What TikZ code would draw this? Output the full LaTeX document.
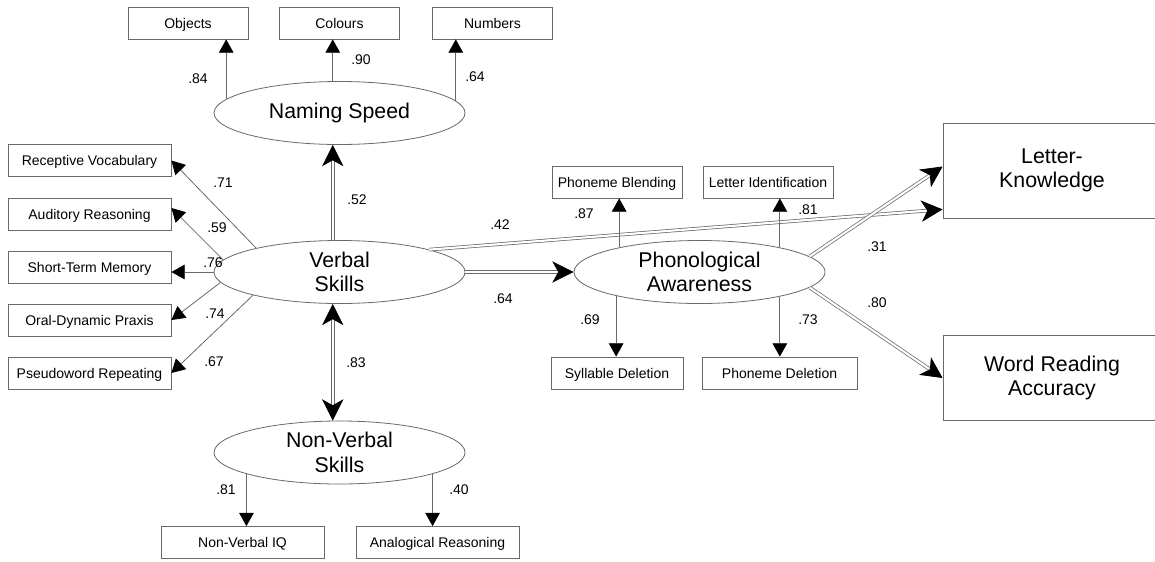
\documentclass[tikz,border=0pt]{standalone}
\usepackage{fontspec}
\setmainfont{Liberation Sans}
\usetikzlibrary{arrows.meta,shapes.geometric,calc}
\definecolor{edge}{RGB}{105,105,105}

\begin{document}
\begin{tikzpicture}[x=0.75pt,y=-0.75pt,
  every node/.style={inner sep=0pt,text=black},
  obs/.style={draw=edge,line width=0.6pt,rectangle,minimum height=24pt,
    text height=7.6pt,text depth=0pt,
    font=\fontsize{10.5}{12}\selectfont},
  outcome/.style={draw=edge,line width=0.6pt,rectangle,minimum width=163.5pt,
    align=center,font=\fontsize{16}{18.5}\selectfont},
  latent/.style={draw=edge,line width=0.6pt,ellipse,fill=white,
    minimum width=188.25pt,minimum height=47.25pt,
    align=center,font=\fontsize{16}{18.5}\selectfont},
  lab/.style={font=\fontsize{10.5}{12}\selectfont},
  load/.style={draw=edge,line width=0.6pt,
    -{Triangle[length=10pt,width=11pt,color=black]}},
  effect/.style={draw=edge,line width=0.55pt,double=white,double distance=1.6pt,
    -{Stealth[length=16pt,width=16pt,inset=4.5pt,color=black]}},
  corr/.style={draw=edge,line width=0.55pt,double=white,double distance=1.6pt,
    {Stealth[length=16pt,width=16pt,inset=4.5pt,color=black]}-{Stealth[length=16pt,width=16pt,inset=4.5pt,color=black]}},
]
\useasboundingbox (0,0) rectangle (1155,561);
\clip (0,0) rectangle (1155,561);

% observed measures
\node[obs,minimum width=90pt] (obj) at (188,23) {Objects};
\node[obs,minimum width=90pt] (col) at (339.5,23) {Colours};
\node[obs,minimum width=90pt] (num) at (492.5,23) {Numbers};

\node[obs,minimum width=122.25pt] (rv)  at (89.5,160.5) {Receptive Vocabulary};
\node[obs,minimum width=122.25pt] (ar)  at (89.5,214) {Auditory Reasoning};
\node[obs,minimum width=122.25pt] (stm) at (89.5,267) {Short-Term Memory};
\node[obs,minimum width=122.25pt] (odp) at (89.5,320) {Oral-Dynamic Praxis};
\node[obs,minimum width=122.25pt] (pr)  at (89.5,373) {Pseudoword Repeating};

\node[obs,minimum width=122.25pt] (nviq) at (242.5,542.5) {Non-Verbal IQ};
\node[obs,minimum width=122.25pt] (anr)  at (437.5,542.5) {Analogical Reasoning};

\node[obs,minimum width=97.5pt] (pb) at (617,182) {Phoneme Blending};
\node[obs,minimum width=97.5pt] (li) at (768,182) {Letter Identification};
\node[obs,minimum width=99pt] (sd) at (617,373) {Syllable Deletion};
\node[obs,minimum width=116.25pt] (pd) at (779.5,373) {Phoneme Deletion};

% outcomes
\node[outcome,minimum height=71.25pt] (lk) at (1052,170.5) {Letter-\\Knowledge};
\node[outcome,minimum height=63.75pt] (wra) at (1052,378) {Word Reading\\Accuracy};

% latent factors
\node[latent] (ns) at (339.5,113) {Naming Speed};
\node[latent] (vs) at (339.5,272) {Verbal\\Skills};
\node[latent] (nv) at (339.5,452.5) {Non-Verbal\\Skills};
\node[latent] (pa) at (699.5,272) {Phonological\\Awareness};

% structural paths
\draw[effect] (vs.102) -- (vs.102 |- ns.south);
\draw[corr] (vs.258) -- (vs.258 |- nv.north);
\draw[effect] (vs.east) -- (pa.west);
\draw[effect] (vs.14.7) -- ($(lk.south west)+(0,-9)$);
\draw[effect] (pa.8) -- ($(lk.west)+(0,-4)$);
\draw[effect] (pa.-8) -- (wra.west);

% loadings
\draw[load] (ns.173.5) -- (ns.173.5 |- obj.south);
\draw[load] (ns.102) -- (ns.102 |- col.south);
\draw[load] (ns.6.2) -- (ns.6.2 |- num.south);

\draw[load] (vs.164.3) -- (rv.east);
\draw[load] (vs.174) -- ($(ar.east)+(0,-6)$);
\draw[load] (vs.west) -- (vs.west -| stm.east);
\draw[load] (vs.185.4) -- (odp.east);
\draw[load] (vs.195.7) -- (pr.east);

\draw[load] (nv.193.2) -- (nv.193.2 |- nviq.north);
\draw[load] (nv.-13.2) -- (nv.-13.2 |- anr.north);

\draw[load] (pa.163.7) -- (pa.163.7 |- pb.south);
\draw[load] (pa.17.3) -- (pa.17.3 |- li.south);
\draw[load] (pa.196.3) -- (pa.196.3 |- sd.north);
\draw[load] (pa.-17.3) -- (pa.-17.3 |- pd.north);

% coefficients
\node[lab] (c84) at (198,79) {.84};
\node[lab] (c90) at (361,60) {.90};
\node[lab] (c64a) at (475,77) {.64};
\node[lab] (c71) at (223,183) {.71};
\node[lab] (c59) at (217,228) {.59};
\node[lab] (c76) at (213,263) {.76};
\node[lab] (c74) at (215,314) {.74};
\node[lab] (c67) at (214,362) {.67};
\node[lab] (c52) at (357,200) {.52};
\node[lab] (c83) at (356,363) {.83};
\node[lab] (c81a) at (226,490) {.81};
\node[lab] (c40) at (459,490) {.40};
\node[lab] (c42) at (500,225) {.42};
\node[lab] (c64b) at (503,299) {.64};
\node[lab] (c87) at (584,214) {.87};
\node[lab] (c81b) at (808,210) {.81};
\node[lab] (c69) at (590,320) {.69};
\node[lab] (c73) at (808,320) {.73};
\node[lab] (c31) at (877,247) {.31};
\node[lab] (c80) at (877,303) {.80};
\end{tikzpicture}
\end{document}
